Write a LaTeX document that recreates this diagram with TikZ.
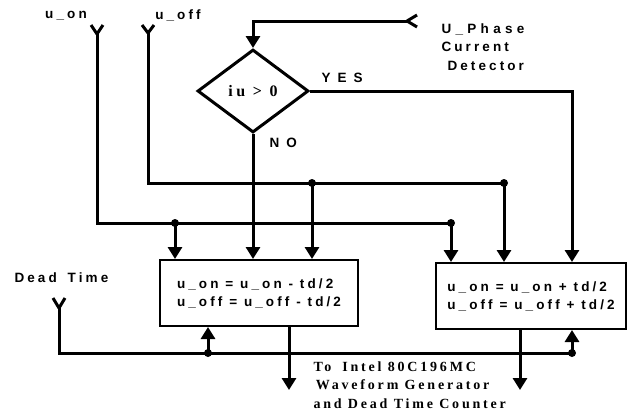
\documentclass[tikz,border=0pt]{standalone}
\usepackage{fontspec}
\setmainfont{Liberation Sans}
\newfontfamily\labfont[LetterSpace=23]{Liberation Sans}
\newfontfamily\phfont[LetterSpace=32]{Liberation Sans}
\newfontfamily\widefont[LetterSpace=52]{Liberation Sans}
\newfontfamily\serfont[LetterSpace=20]{Liberation Serif}
\newfontfamily\decfont[LetterSpace=22]{Liberation Serif}
\usetikzlibrary{arrows.meta,shapes.geometric}
\begin{document}
\begin{tikzpicture}[x=1pt,y=-1pt,line width=3pt,
  lab/.style={font=\labfont\bfseries\fontsize{13.5}{18.5}\selectfont,inner sep=0pt,align=left},
  widelab/.style={font=\widefont\bfseries\fontsize{13.5}{18.5}\selectfont,inner sep=0pt},
  ser/.style={font=\serfont\bfseries\fontsize{14}{18.5}\selectfont,inner sep=0pt,align=left},
  box/.style={draw,line width=2pt,align=left,font=\labfont\bfseries\fontsize{13.5}{18}\selectfont,inner sep=0pt},
  arr/.style={-{Triangle[width=14pt,length=12pt]}},
  dot/.style={circle,fill,inner sep=0pt,minimum size=8pt}]
\path[fill=white,use as bounding box] (0,0) rectangle (628,413);

% decision
\node[diamond,draw,minimum width=111pt,minimum height=83pt,inner sep=0pt,
  font=\decfont\bfseries\fontsize{16}{18}\selectfont] (dec) at (253,91) {iu > 0};

% boxes
\node[box,minimum width=198pt,minimum height=66pt] (b1) at (259,293)
  {u\_on = u\_on - td/2\\u\_off = u\_off - td/2\hspace{6pt}};
\node[box,minimum width=190pt,minimum height=66pt] (b2) at (531,296)
  {u\_on = u\_on + td/2\\u\_off = u\_off + td/2\hspace{6pt}};

% labels
\node[lab] (luon) at (66,16) {u\_on};
\node[lab] (luoff) at (178,15) {u\_off};
\node[lab,anchor=north west] (lph) at (440,22) {{\phfont U\_Phase}\\Current\\\hspace{6pt}Detector};
\node[widelab,anchor=west] (lyes) at (320,78) {YES};
\node[widelab,anchor=west] (lno) at (268,143) {NO};
\node[lab,anchor=west] (ldt) at (13,278) {Dead\hspace{4pt} Time};
\node[ser,anchor=north west] (lout) at (312,360) {To\hspace{11pt}Intel 80C196MC\\\,Waveform Generator\\and Dead Time Counter};

% junction coordinates
\coordinate (j1) at (175,223);
\coordinate (j2) at (451,223);
\coordinate (k1) at (312,183);
\coordinate (k2) at (504,183);
\coordinate (dt1) at (208,353);
\coordinate (dt2) at (572,353);
\coordinate (o1) at (289,390);
\coordinate (o2) at (520,390);

% input ends (Y symbols)
\coordinate (uonin) at (97,34);
\coordinate (uoffin) at (148,33);
\coordinate (dtin) at (59,308);
\coordinate (phin) at (407,21);
\draw (uonin) -- ++(-6,-9) (uonin) -- ++(6,-9);
\draw (uoffin) -- ++(-6,-8) (uoffin) -- ++(6,-8);
\draw (dtin) -- ++(-6,-10) (dtin) -- ++(6,-10);
\draw (phin) -- ++(10,-6) (phin) -- ++(10,6);

% u_on bus
\draw (uonin) -- (uonin |- j1) -- (j2);
\draw[arr] (j1) -- (j1 |- b1.north);
\draw[arr] (j2) -- (j2 |- b2.north);
% u_off bus
\draw (uoffin) -- (uoffin |- k1) -- (k2);
\draw[arr] (k1) -- (k1 |- b1.north);
\draw[arr] (k2) -- (k2 |- b2.north);
% phase current
\draw[arr] (phin) -| (dec.north);
% decision outputs
\draw[arr] (dec.south) -- (dec.south |- b1.north);
\draw[arr] (dec.east) -| (dt2 |- b2.north);
% dead time bus
\draw (dtin) -- (dtin |- dt1) -- (dt2);
\draw[arr] (dt1) -- (dt1 |- b1.south);
\draw[arr] (dt2) -- (dt2 |- b2.south);
% outputs
\draw[arr] (o1 |- b1.south) -- (o1);
\draw[arr] (o2 |- b2.south) -- (o2);

% dots
\node[dot] (dj1) at (j1) {};
\node[dot] (dj2) at (j2) {};
\node[dot] (dk1) at (k1) {};
\node[dot] (dk2) at (k2) {};
\node[dot] (ddt1) at (dt1) {};
\node[dot] (ddt2) at (dt2) {};
\end{tikzpicture}
\end{document}
